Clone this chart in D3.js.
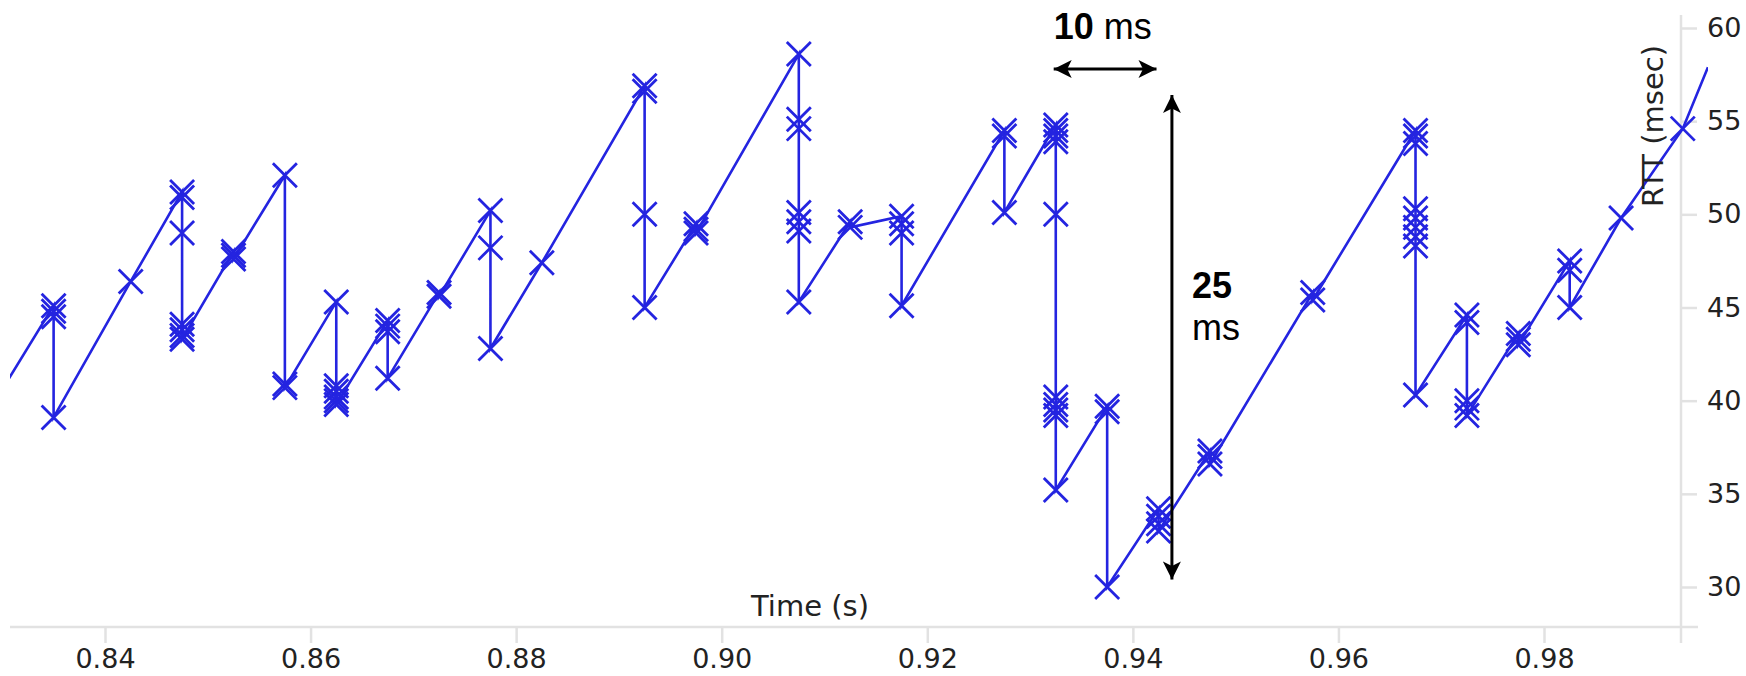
<!DOCTYPE html>
<html>
<head>
<meta charset="utf-8">
<script src="https://cdn.jsdelivr.net/npm/d3@7"></script>
<style>
  body { margin: 0; background: #fff; }
  .axis text { font-family: "DejaVu Sans", sans-serif; font-size: 27px; fill: #222; }
  .axis line { stroke: #e2e2e2; stroke-width: 2.5; }
  .axisLabel { font-family: "DejaVu Sans", sans-serif; font-size: 29px; fill: #222; }
  .note { font-family: "Liberation Sans", Arial, sans-serif; font-size: 36px; fill: #000; }
</style>
</head>
<body>
<div id="chart"></div>
<script>
// send times (s) of each burst of samples, and the RTTs (ms) seen at that time
var clusterTimes = [0.8290, 0.8350, 0.8425, 0.8475, 0.8525, 0.8575, 0.8625, 0.8675, 0.8725, 0.8775,
  0.8825, 0.8925, 0.8975, 0.9075, 0.9125, 0.9175, 0.9275, 0.9325, 0.9375, 0.9425,
  0.9475, 0.9575, 0.9675, 0.9725, 0.9775, 0.9825, 0.9875, 0.9935, 0.99595];

var clusterRtts = [
  [39.7],
  [45.1, 44.8, 44.5, 39.1],
  [46.4],
  [51.2, 50.9, 49.0, 44.1, 43.8, 43.5, 43.3],
  [48.0, 47.8, 47.6],
  [52.1, 40.9, 40.7],
  [45.3, 40.8, 40.5, 40.2, 40.0, 39.8],
  [44.3, 44.0, 43.7, 41.2],
  [45.8, 45.6],
  [50.2, 48.2, 42.8],
  [47.4],
  [56.9, 56.6, 50.0, 45.0],
  [49.5, 49.2, 49.0],
  [58.6, 55.1, 54.6, 50.1, 49.6, 49.1, 45.3],
  [49.6, 49.3],
  [49.9, 49.5, 49.0, 45.1],
  [54.5, 54.2, 50.1],
  [54.8, 54.5, 54.2, 53.9, 50.0, 40.2, 39.8, 39.5, 39.2, 35.2],
  [39.7, 39.4, 30.0],
  [34.2, 33.8, 33.4, 33.0],
  [37.3, 37.0, 36.6],
  [45.8, 45.4],
  [54.5, 54.2, 53.8, 50.3, 49.8, 49.3, 48.8, 48.3, 40.3],
  [44.6, 44.2, 40.0, 39.6, 39.2],
  [43.6, 43.3, 43.0],
  [47.5, 47.0, 45.0],
  [49.8],
  [54.6],
  [57.9]
];

var xTickValues = [0.84, 0.86, 0.88, 0.90, 0.92, 0.94, 0.96, 0.98];
var yTickValues = [30, 35, 40, 45, 50, 55, 60];

// annotation arrows: 10 ms across, 25 ms up
var spanTimes = [0.9323, 0.9423];
var spanTimeLevel = 57.8;
var spanRtts = [30.4, 56.4];
var spanRttTime = 0.9438;

var width = 1746, height = 676;

var svg = d3.select("#chart")
  .append("svg")
  .attr("width", width)
  .attr("height", height);

// scales
var x = d3.scaleLinear().domain([0.84, 0.98]).range([105, 1544]);
var y = d3.scaleLinear().domain([30, 60]).range([587, 28]);

//flatten the bursts into one list of points
var points = [];
clusterTimes.forEach(function(t, i) {
  clusterRtts[i].forEach(function(r) {
    points.push({ t: t, rtt: r });
  });
});

// AXES
var xAxisY = 627, yAxisX = 1681;

var xg = svg.append("g")
  .attr("class", "axis")
  .attr("transform", `translate(0, ${xAxisY})`)
  .call(d3.axisBottom(x).tickValues(xTickValues).tickFormat(d3.format(".2f"))
    .tickSize(16).tickPadding(6).tickSizeOuter(0));
xg.select(".domain").remove();
xg.append("line").attr("x1", 10).attr("x2", 1698).attr("y1", 0).attr("y2", 0);

var yg = svg.append("g")
  .attr("class", "axis")
  .attr("transform", `translate(${yAxisX}, 0)`)
  .call(d3.axisRight(y).tickValues(yTickValues).tickSize(16).tickPadding(10).tickSizeOuter(0));
yg.select(".domain").remove();
yg.append("line").attr("x1", 0).attr("x2", 0).attr("y1", 15).attr("y2", 643);

// data
svg.append("clipPath").attr("id", "plotClip")
  .append("rect").attr("x", 10).attr("y", 0).attr("width", 1698).attr("height", height);

var plot = svg.append("g").attr("clip-path", "url(#plotClip)");

var line = d3.line()
  .x(d => x(d.t))
  .y(d => y(d.rtt));

plot.append("path")
  .datum(points)
  .attr("d", line)
  .attr("fill", "none")
  .attr("stroke", "#2424e0")
  .attr("stroke-width", 2.6);

plot.selectAll(".mark")
  .data(points.slice(0, points.length - 1))
  .enter()
  .append("path")
  .attr("class", "mark")
  .attr("transform", d => `translate(${x(d.t)}, ${y(d.rtt)})`)
  .attr("d", "M-12,-12L12,12M-12,12L12,-12")
  .attr("stroke", "#2424e0")
  .attr("stroke-width", 2.8)
  .attr("fill", "none");

// axis labels
svg.append("text")
  .attr("class", "axisLabel")
  .attr("x", 810)
  .attr("y", 616)
  .attr("text-anchor", "middle")
  .text("Time (s)");

svg.append("text")
  .attr("class", "axisLabel")
  .attr("transform", "translate(1663, 126) rotate(-90)")
  .attr("text-anchor", "middle")
  .text("RTT (msec)");

// ANNOTATIONS
var defs = svg.append("defs");
defs.append("marker")
  .attr("id", "arrowHead")
  .attr("viewBox", "0 0 10 10")
  .attr("refX", 10).attr("refY", 5)
  .attr("markerUnits", "userSpaceOnUse")
  .attr("markerWidth", 26).attr("markerHeight", 18)
  .attr("orient", "auto-start-reverse")
  .append("path")
  .attr("d", "M0,0L10,5L0,10L2.5,5Z")
  .attr("fill", "#000");

svg.append("line")
  .attr("x1", x(spanTimes[0])).attr("x2", x(spanTimes[1]))
  .attr("y1", y(spanTimeLevel)).attr("y2", y(spanTimeLevel))
  .attr("stroke", "#000").attr("stroke-width", 3)
  .attr("marker-start", "url(#arrowHead)")
  .attr("marker-end", "url(#arrowHead)");

svg.append("line")
  .attr("x1", x(spanRttTime)).attr("x2", x(spanRttTime))
  .attr("y1", y(spanRtts[0])).attr("y2", y(spanRtts[1]))
  .attr("stroke", "#000").attr("stroke-width", 3)
  .attr("marker-start", "url(#arrowHead)")
  .attr("marker-end", "url(#arrowHead)");

var t10 = svg.append("text").attr("class", "note")
  .attr("x", x(spanTimes[0])).attr("y", 39);
t10.append("tspan").attr("font-weight", "bold").text("10");
t10.append("tspan").text(" ms");

svg.append("text").attr("class", "note")
  .attr("x", x(spanRttTime) + 20).attr("y", 298)
  .attr("font-weight", "bold")
  .text("25");
svg.append("text").attr("class", "note")
  .attr("x", x(spanRttTime) + 20).attr("y", 340)
  .text("ms");
</script>
</body>
</html>
